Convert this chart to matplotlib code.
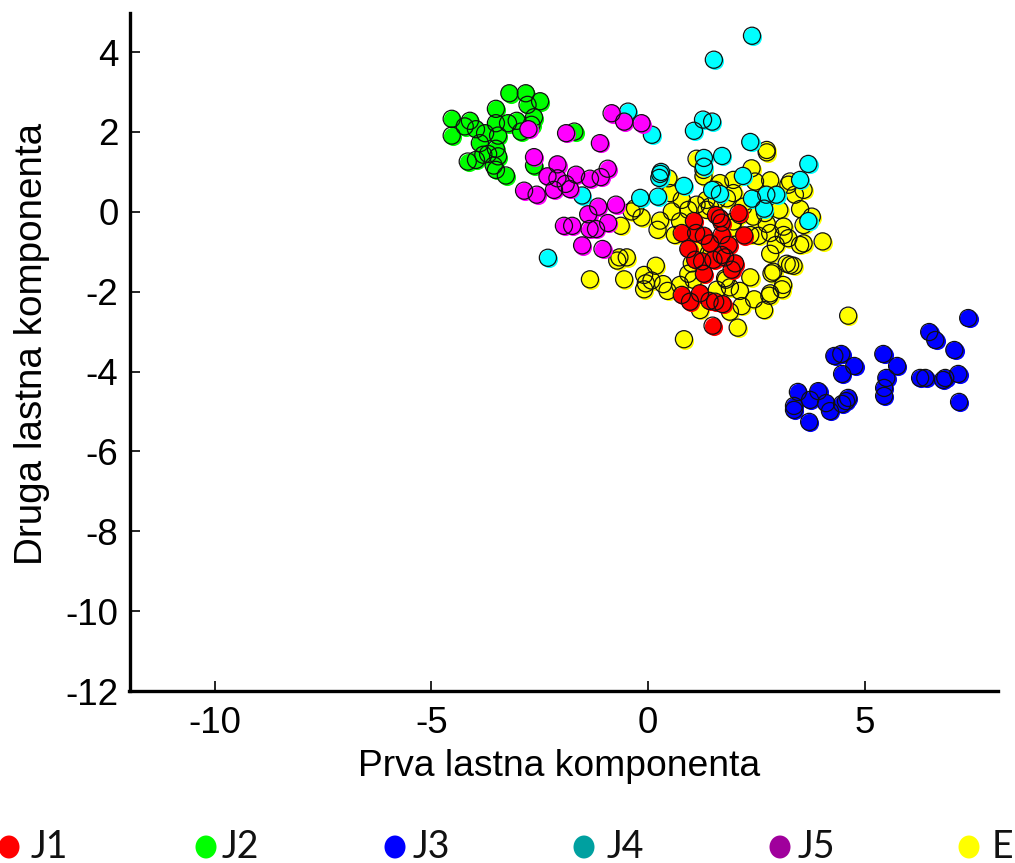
import matplotlib
matplotlib.use("Agg")
import matplotlib.pyplot as plt
from matplotlib.patches import Ellipse
from matplotlib.ticker import FuncFormatter
from matplotlib.transforms import ScaledTranslation

J1_x = [2.09,1.06,1.57,1.66,1.70,0.78,1.11,1.29,1.70,2.22,1.43,1.86,0.93,1.70,1.78,1.51,1.09,1.25,2.01,1.93,1.29,0.78,0.97,1.20,1.42,1.55,1.72,1.49]
J1_y = [-0.03,-0.23,-0.08,-0.16,-0.27,-0.53,-0.53,-0.60,-0.58,-0.59,-0.79,-0.83,-0.93,-1.08,-1.14,-1.20,-1.20,-1.24,-1.29,-1.45,-1.55,-2.08,-2.25,-2.04,-2.23,-2.25,-2.31,-2.85]

J2_x = [-3.20,-2.82,-2.49,-2.78,-3.51,-4.53,-4.11,-4.23,-3.97,-4.53,-3.51,-3.23,-3.03,-2.63,-2.69,-2.93,-3.46,-3.76,-3.88,-3.51,-3.46,-3.80,-3.69,-3.97,-4.16,-3.56,-3.51,-3.28,-2.63,-1.70]
J2_y = [2.97,2.97,2.77,2.68,2.58,2.33,2.28,2.14,2.07,1.91,2.22,2.22,2.28,2.37,2.18,2.01,1.91,1.97,1.72,1.58,1.39,1.43,1.45,1.30,1.26,1.16,1.05,0.91,1.16,2.01]

J3_x = [7.39,6.49,6.63,7.07,4.30,4.46,5.43,5.75,4.76,4.48,7.16,5.50,6.28,6.40,6.81,6.86,5.45,5.45,7.18,3.46,3.93,4.62,4.48,4.57,3.74,4.11,3.37,3.37,4.20,3.72]
J3_y = [-2.66,-3.01,-3.21,-3.46,-3.61,-3.56,-3.56,-3.86,-3.86,-4.06,-4.06,-4.16,-4.16,-4.16,-4.21,-4.16,-4.41,-4.61,-4.76,-4.51,-4.49,-4.66,-4.81,-4.74,-4.71,-4.79,-4.86,-4.96,-4.99,-5.26]

J4_x = [2.40,1.52,-0.46,0.09,1.06,1.27,1.48,2.36,1.71,1.29,1.29,3.70,2.19,0.30,0.28,0.26,0.83,-0.18,0.23,1.48,1.66,2.40,2.68,2.73,2.96,3.51,3.70,-1.52,-2.31]
J4_y = [4.41,3.81,2.51,1.93,2.03,2.31,2.26,1.75,1.40,1.35,1.13,1.20,0.90,1.00,0.95,0.85,0.65,0.35,0.38,0.55,0.45,0.33,0.08,0.43,0.43,0.80,-0.23,0.41,-1.15]

J5_x = [-0.84,-0.55,-0.15,-2.76,-1.89,-1.11,-2.63,-2.09,-0.93,-1.66,-1.34,-1.09,-2.32,-2.09,-1.90,-2.17,-1.80,-2.86,-2.57,-0.74,-1.15,-1.38,-0.92,-1.94,-1.75,-1.35,-1.20,-1.52,-1.05]
J5_y = [2.47,2.26,2.22,2.07,1.97,1.72,1.37,1.19,1.08,0.93,0.83,0.87,0.89,0.84,0.70,0.55,0.57,0.53,0.43,0.18,0.13,-0.06,-0.28,-0.35,-0.35,-0.43,-0.43,-0.84,-0.93]

E_x = [1.12,2.74,2.74,2.39,2.47,1.97,2.82,0.47,3.28,3.24,3.59,0.51,0.78,0.55,-0.30,-0.38,-0.15,-0.63,0.28,0.22,0.74,0.62,1.35,1.12,1.43,1.82,1.97,2.20,2.43,2.74,3.03,3.51,3.39,3.78,3.59,3.13,2.36,2.55,2.82,3.24,3.13,3.51,3.59,2.95,2.82,4.03,3.20,3.28,3.36,2.89,2.85,2.36,1.89,2.12,3.12,3.09,2.82,2.80,2.45,2.16,2.68,1.89,2.07,0.83,1.20,1.59,1.78,0.93,1.01,0.18,-1.34,-0.55,-0.66,-0.71,-0.49,-0.09,0.08,-0.05,-0.09,0.35,0.45,0.74,1.28,1.66,1.55,0.93,1.35,1.59,2.51,2.70,1.97,2.12,1.28,4.62,1.95,1.40,1.80,1.05,1.10]
E_y = [1.33,1.49,1.55,1.09,0.76,0.80,0.79,0.84,0.76,0.68,0.55,0.47,0.30,0.01,0.09,0.01,-0.14,-0.35,-0.22,-0.45,-0.24,-0.58,0.30,0.18,0.13,0.34,0.47,0.13,-0.12,-0.30,0.05,0.07,0.43,-0.12,-0.33,-0.37,-0.58,-0.60,-0.53,-0.66,-0.58,-0.83,-0.79,-0.83,-1.05,-0.74,-1.30,-1.33,-1.35,-1.50,-1.54,-1.64,-1.89,-1.98,-1.83,-1.94,-2.04,-2.10,-2.19,-2.36,-2.46,-2.50,-2.90,-3.19,-2.46,-1.95,-1.66,-1.55,-1.29,-1.35,-1.69,-1.69,-1.14,-1.22,-1.14,-1.58,-1.72,-1.79,-1.94,-1.81,-1.98,-1.83,0.89,0.72,0.55,0.05,0.05,0.30,0.30,-0.03,-0.24,-0.08,1.05,-2.60,-0.40,-1.05,-1.70,-1.70,-0.90]

series = [
    (E_x, E_y, "#ffff00"),
    (J2_x, J2_y, "#00ff00"),
    (J3_x, J3_y, "#0000ff"),
    (J4_x, J4_y, "#00ffff"),
    (J5_x, J5_y, "#ff00ff"),
    (J1_x, J1_y, "#ff0000"),
]
legend_labels = ["J1", "J2", "J3", "J4", "J5", "E"]
legend_colors = ["#ff0000", "#00ff00", "#0000ff", "#00a0a0", "#a0009c", "#ffff00"]
legend_marker_x = [9, 206, 395, 584, 780, 969]
legend_text_x = [31, 222, 413, 607, 798, 992]
x_ticks = [-10, -5, 0, 5]
y_ticks = [4, 2, 0, -2, -4, -6, -8, -10, -12]

W, H = 1015, 863
fig = plt.figure(figsize=(W / 100, H / 100), dpi=100)
L, R, T, B = 129.5, 998, 13, 691
ax = fig.add_axes([L / W, 1 - B / H, (R - L) / W, (B - T) / H])
sx = 43.33
ax.set_xlim((L - 648) / sx, (R - 648) / sx)
ax.set_ylim(-12, 4.98)

shadow = ScaledTranslation(1.3 / 100, -1.3 / 100, fig.dpi_scale_trans)
for i, (xs, ys, col) in enumerate(series):
    z = 3 + 3 * i
    ax.scatter(xs, ys, s=152, c=col, linewidths=0, zorder=z,
               transform=ax.transData + shadow, clip_on=False)
    ax.scatter(xs, ys, s=152, c=col, linewidths=0, zorder=z + 1, clip_on=False)
    ax.scatter(xs, ys, s=152, facecolors="none", edgecolors="#111111", linewidths=0.9,
               zorder=z + 2, clip_on=False)

for s in ("top", "right"):
    ax.spines[s].set_visible(False)
for s in ("left", "bottom"):
    ax.spines[s].set_linewidth(2.4)
ax.set_xticks(x_ticks)
ax.set_yticks(y_ticks)
ax.tick_params(direction="in", length=7, width=1.2, labelsize=26.5)
ax.tick_params(axis="x", pad=11)
ax.tick_params(axis="y", pad=8)
ax.xaxis.set_major_formatter(FuncFormatter(lambda v, p: f"{v:g}"))
ax.yaxis.set_major_formatter(FuncFormatter(lambda v, p: f"{v:g}"))
for lab in ax.get_xticklabels() + ax.get_yticklabels():
    lab.set_family("Liberation Sans")

fig.text(559 / W, 1 - 766 / H, "Prva lastna komponenta", family="Liberation Sans",
         fontsize=26.8, ha="center", va="center")
fig.text(32 / W, 1 - 344 / H, "Druga lastna komponenta", family="Liberation Sans",
         fontsize=27.8, rotation=90, ha="center", va="center")

for lab, col, mx, tx in zip(legend_labels, legend_colors, legend_marker_x, legend_text_x):
    fig.add_artist(Ellipse((mx / W, 1 - 847 / H), 21 / W, 23 / H, color=col,
                           transform=fig.transFigure, linewidth=0))
    fig.text(tx / W, 1 - 858 / H, lab, family="Lato", fontsize=27, ha="left",
             va="baseline", color="#111111")

fig.savefig("out.png", dpi=100)
